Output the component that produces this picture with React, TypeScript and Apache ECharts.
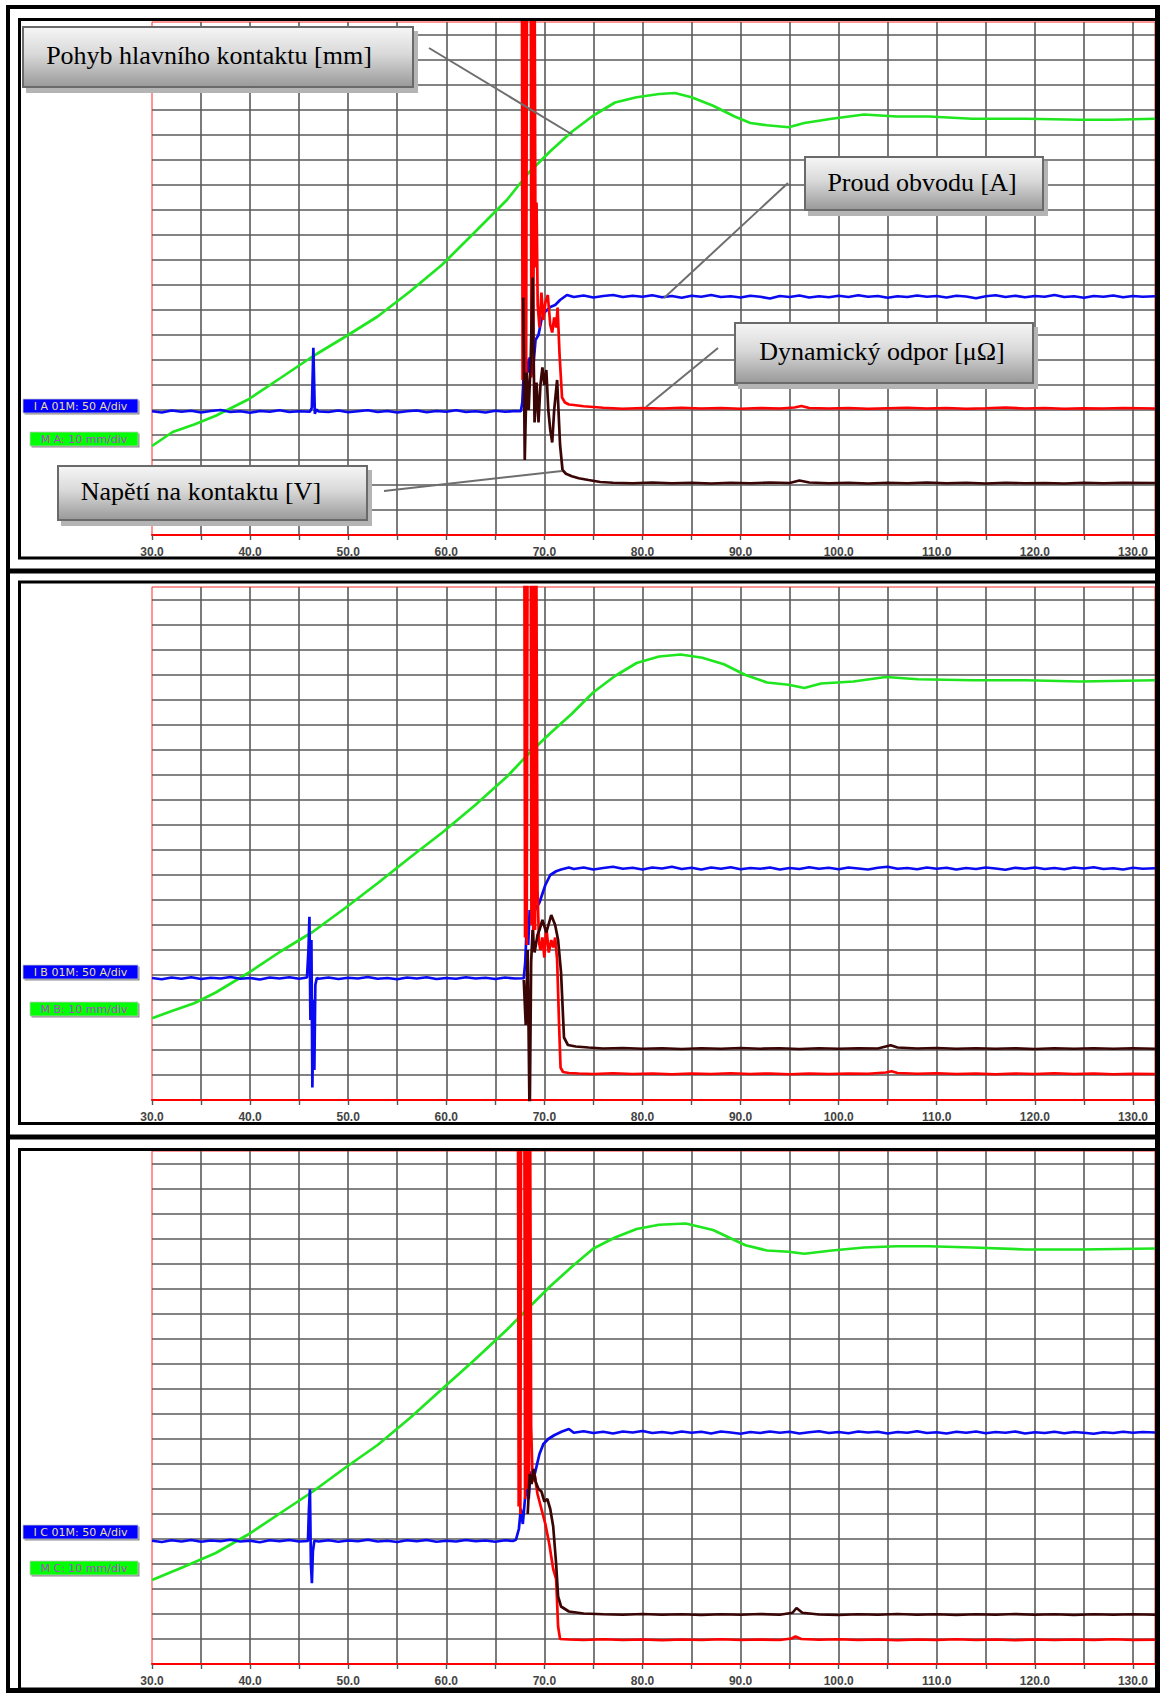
import React, { useEffect, useRef } from 'react';
import * as echarts from 'echarts';

// Time axis of the recorder, milliseconds
const X_MIN = 30;
const X_MAX = 132.25;
const X_TICK_LABELS = [30, 40, 50, 60, 70, 80, 90, 100, 110, 120, 130];
// Vertical scale in screen divisions (no numeric labels on the instrument)
const Y_MAX = 20.52;

// Channel tags shown at the left of each record
const TAGS_A = ['I A 01M: 50 A/div', 'M A: 10 mm/div'];
const TAGS_B = ['I B 01M: 50 A/div', 'M B: 10 mm/div'];
const TAGS_C = ['I C 01M: 50 A/div', 'M C: 10 mm/div'];

// Callout captions for the top record
const CALLOUTS = ['Pohyb hlavního kontaktu [mm]', 'Proud obvodu [A]', 'Dynamický odpor [μΩ]', 'Napětí na kontaktu [V]'];

// ---- Record A (phase A) : [ms, div] ----
const A_MOTION = [[30.0,3.56],[32.1,4.12],[34.3,4.42],[36.5,4.77],[39.8,5.42],[43.1,6.28],[46.4,7.15],[49.7,7.93],[53.0,8.74],[56.3,9.74],[59.6,10.82],[62.9,12.11],[66.2,13.41],[68.4,14.49],[70.6,15.35],[72.8,16.13],[75.0,16.78],[77.2,17.30],[79.4,17.51],[81.7,17.64],[83.3,17.68],[85.0,17.51],[87.2,17.17],[89.4,16.74],[91.0,16.48],[92.7,16.39],[94.9,16.31],[96.5,16.48],[99.3,16.65],[102.6,16.82],[105.9,16.74],[109.2,16.74],[113.6,16.65],[119.1,16.65],[124.6,16.61],[127.9,16.61],[132.25,16.65]];
const A_CURRENT = [[30,4.95],[31,4.9],[32,4.98],[33,4.93],[34,4.97],[35,4.9],[36,4.96],[37,5.0],[38,4.92],[39,4.95],[40,4.89],[41,4.96],[42,4.93],[43,4.99],[44,4.92],[45,4.95],[46.1,4.93],[46.3,5.1],[46.45,7.49],[46.6,4.85],[46.75,5.02],[47,4.94],[48,4.92],[49,4.98],[50,4.91],[51,4.95],[52,4.99],[53,4.92],[54,4.96],[55,4.9],[56,4.95],[57,4.98],[58,4.91],[59,4.96],[60,4.93],[61,4.99],[62,4.92],[63,4.95],[64,4.9],[65,4.97],[66,4.93],[67,4.96],[67.6,4.95],[67.75,5.3],[67.9,6.5],[68.1,7.1],[68.3,6.5],[68.5,7.1],[68.8,6.4],[69.1,7.8],[69.4,8.0],[69.7,8.6],[70.0,8.9],[70.6,9.12],[71.1,9.2],[71.6,9.4],[72.3,9.6],[73,9.52],[74,9.58],[75,9.5],[76,9.56],[77,9.6],[78,9.52],[79,9.57],[80,9.53],[81,9.59],[82,9.51],[83,9.56],[84,9.49],[85,9.57],[86,9.53],[87,9.6],[88,9.52],[89,9.55],[90,9.5],[91,9.57],[92,9.53],[93,9.46],[94,9.56],[95,9.52],[96,9.58],[97,9.5],[98,9.55],[99,9.51],[100,9.57],[101,9.52],[102,9.59],[103,9.53],[104,9.56],[105,9.49],[106,9.55],[107,9.52],[108,9.58],[109,9.53],[110,9.56],[111,9.5],[112,9.57],[113,9.54],[114,9.47],[115,9.55],[116,9.59],[117,9.52],[118,9.57],[119,9.51],[120,9.56],[121,9.53],[122,9.6],[123,9.52],[124,9.55],[125,9.49],[126,9.56],[127,9.53],[128,9.58],[129,9.51],[130,9.56],[131,9.53],[132.25,9.55]];
const A_RESISTANCE = [[67.7,25],[67.78,6.2],[67.86,25],[67.95,6.0],[68.04,25],[68.14,6.4],[68.24,25],[68.6,25],[68.68,6.3],[68.78,25],[68.88,7.5],[68.98,25],[69.1,10.7],[69.2,13.3],[69.32,9.2],[69.5,8.3],[69.7,9.7],[69.9,8.6],[70.1,9.3],[70.35,9.6],[70.6,8.4],[70.8,8.1],[71.0,8.7],[71.2,8.3],[71.35,9.1],[71.55,7.2],[71.8,5.5],[72.1,5.3],[72.5,5.22],[73,5.2],[74,5.15],[75,5.12],[76,5.09],[77,5.07],[78,5.05],[80,5.08],[82,5.06],[84,5.09],[86,5.06],[88,5.08],[90,5.05],[92,5.08],[94,5.06],[95.5,5.1],[96.2,5.16],[97,5.08],[99,5.06],[101,5.08],[103,5.05],[105,5.07],[107,5.09],[109,5.06],[111,5.08],[113,5.05],[115,5.07],[117,5.1],[119,5.06],[121,5.08],[123,5.05],[125,5.07],[127,5.06],[129,5.08],[132.25,5.06]];
const A_VOLTAGE = [[67.85,9.5],[68.0,3.0],[68.2,6.5],[68.4,5.0],[68.6,6.9],[68.8,10.3],[69.0,4.5],[69.2,6.1],[69.4,4.5],[69.6,6.0],[69.8,6.7],[70.0,6.0],[70.2,6.6],[70.4,5.0],[70.6,4.2],[70.8,3.7],[71.0,5.0],[71.3,6.2],[71.6,3.6],[71.85,2.6],[72.2,2.45],[72.8,2.35],[73.5,2.27],[74.5,2.2],[75.7,2.12],[77,2.09],[79,2.07],[81,2.1],[83,2.07],[85,2.09],[87,2.06],[89,2.09],[91,2.07],[93,2.1],[95,2.08],[96,2.18],[97,2.1],[99,2.07],[101,2.09],[103,2.06],[105,2.09],[107,2.07],[109,2.1],[111,2.07],[113,2.09],[115,2.06],[117,2.09],[119,2.07],[121,2.08],[123,2.06],[125,2.09],[127,2.07],[129,2.09],[132.25,2.08]];

// ---- Record B (phase B) ----
const B_MOTION = [[30.0,3.27],[32.1,3.57],[34.3,3.87],[36.5,4.30],[39.8,5.08],[43.1,5.94],[46.4,6.73],[49.7,7.68],[53.0,8.67],[56.3,9.70],[59.6,10.70],[62.9,11.78],[66.2,12.94],[68.4,13.85],[70.6,14.67],[72.8,15.45],[75.0,16.31],[77.2,16.96],[79.4,17.48],[81.7,17.74],[83.9,17.82],[86.1,17.69],[88.3,17.43],[90.5,17.00],[92.7,16.70],[94.9,16.61],[96.5,16.48],[98.2,16.66],[101.5,16.74],[104.8,16.92],[108.1,16.83],[113.6,16.79],[119.1,16.79],[124.6,16.74],[132.25,16.79]];
const B_CURRENT = [[30,4.88],[31,4.83],[32,4.9],[33,4.85],[34,4.91],[35,4.84],[36,4.89],[37,4.86],[38,4.92],[39,4.85],[40,4.88],[41,4.82],[42,4.9],[43,4.86],[44,4.91],[45,4.85],[45.8,4.9],[45.95,6.0],[46.05,7.33],[46.15,3.2],[46.25,6.4],[46.35,0.5],[46.45,4.0],[46.55,1.2],[46.65,4.6],[46.8,4.88],[47,4.85],[48,4.9],[49,4.84],[50,4.89],[51,4.86],[52,4.92],[53,4.85],[54,4.88],[55,4.83],[56,4.9],[57,4.86],[58,4.91],[59,4.84],[60,4.88],[61,4.85],[62,4.91],[63,4.86],[64,4.89],[65,4.84],[66,4.9],[67,4.86],[67.9,4.87],[68.05,5.5],[68.2,7.0],[68.35,6.2],[68.5,7.6],[68.7,7.2],[68.9,7.5],[69.2,7.7],[69.5,7.9],[70.1,8.6],[70.6,9.0],[71.2,9.15],[71.7,9.22],[72.5,9.3],[73,9.24],[74,9.3],[75,9.22],[76,9.28],[77,9.33],[78,9.25],[79,9.29],[80,9.22],[81,9.3],[82,9.26],[83,9.33],[84,9.24],[85,9.29],[86,9.22],[87,9.3],[88,9.25],[89,9.31],[90,9.23],[91,9.28],[92,9.25],[93,9.3],[94,9.22],[95,9.28],[96,9.24],[97,9.31],[98,9.25],[99,9.29],[100,9.23],[101,9.3],[102,9.26],[103,9.22],[104,9.29],[105,9.33],[106,9.25],[107,9.28],[108,9.23],[109,9.3],[110,9.25],[111,9.29],[112,9.22],[113,9.28],[114,9.24],[115,9.3],[116,9.26],[117,9.21],[118,9.29],[119,9.25],[120,9.3],[121,9.24],[122,9.28],[123,9.23],[124,9.3],[125,9.26],[126,9.31],[127,9.24],[128,9.27],[129,9.22],[130,9.29],[131,9.25],[132.25,9.27]];
const B_RESISTANCE = [[67.95,25],[68.03,6.5],[68.11,25],[68.2,6.2],[68.3,25],[68.6,25],[68.68,7.0],[68.77,25],[68.86,6.5],[68.95,25],[69.05,6.8],[69.15,25],[69.3,8.4],[69.45,6.3],[69.6,6.0],[69.8,6.5],[70.0,5.7],[70.2,6.9],[70.45,5.9],[70.7,6.4],[70.9,6.1],[71.1,6.5],[71.3,5.6],[71.5,3.0],[71.65,1.3],[71.9,1.12],[72.5,1.08],[73.5,1.06],[75,1.04],[77,1.07],[79,1.04],[81,1.06],[83,1.03],[85,1.06],[87,1.04],[89,1.07],[91,1.04],[93,1.06],[95,1.03],[97,1.06],[99,1.04],[101,1.06],[103,1.05],[104.8,1.1],[105.4,1.15],[106,1.08],[108,1.05],[110,1.07],[112,1.04],[114,1.06],[116,1.03],[118,1.06],[120,1.04],[122,1.07],[124,1.04],[126,1.06],[128,1.03],[130,1.05],[132.25,1.04]];
const B_VOLTAGE = [[67.9,4.8],[68.1,3.0],[68.3,6.0],[68.5,-1],[68.65,5.5],[68.8,6.8],[69.0,5.9],[69.3,6.6],[69.5,6.8],[69.8,7.2],[70.2,6.7],[70.7,7.4],[71.1,7.0],[71.4,6.4],[71.7,5.1],[72.0,2.5],[72.4,2.2],[73.2,2.14],[74.5,2.1],[76,2.06],[78,2.08],[80,2.05],[82,2.07],[84,2.04],[86,2.07],[88,2.05],[90,2.08],[92,2.05],[94,2.07],[96,2.04],[98,2.07],[100,2.05],[102,2.07],[104,2.06],[105.3,2.19],[106,2.1],[108,2.06],[110,2.08],[112,2.05],[114,2.07],[116,2.05],[118,2.07],[120,2.04],[122,2.07],[124,2.05],[126,2.07],[128,2.05],[130,2.07],[132.25,2.05]];

// ---- Record C (phase C) ----
const C_MOTION = [[30.0,3.36],[33.2,3.88],[36.5,4.44],[39.8,5.18],[43.1,6.04],[46.4,6.90],[49.7,7.85],[53.0,8.76],[56.3,9.84],[59.6,11.01],[62.9,12.17],[66.2,13.38],[68.4,14.25],[70.6,15.11],[72.8,15.89],[75.0,16.62],[77.2,17.06],[79.4,17.40],[81.7,17.57],[84.4,17.62],[87.2,17.36],[90.5,16.75],[92.7,16.54],[94.9,16.49],[96.5,16.41],[99.3,16.54],[102.6,16.66],[105.9,16.71],[109.2,16.71],[113.6,16.66],[119.1,16.58],[124.6,16.58],[132.25,16.62]];
const C_CURRENT = [[30,4.93],[31,4.88],[32,4.95],[33,4.9],[34,4.96],[35,4.89],[36,4.94],[37,4.91],[38,4.97],[39,4.9],[40,4.93],[41,4.87],[42,4.95],[43,4.91],[44,4.96],[45,4.9],[45.9,4.92],[46.0,6.2],[46.1,6.99],[46.2,4.0],[46.3,3.23],[46.4,4.5],[46.55,4.93],[47,4.9],[48,4.95],[49,4.89],[50,4.94],[51,4.91],[52,4.97],[53,4.9],[54,4.93],[55,4.88],[56,4.95],[57,4.91],[58,4.96],[59,4.89],[60,4.93],[61,4.9],[62,4.96],[63,4.91],[64,4.94],[65,4.89],[66,4.95],[66.8,4.92],[67.1,4.97],[67.4,5.4],[67.6,6.2],[67.8,5.6],[68.0,6.5],[68.2,7.2],[68.4,6.6],[68.6,7.7],[68.9,7.4],[69.2,7.9],[69.5,8.4],[69.9,8.8],[70.4,9.0],[71.0,9.15],[71.8,9.3],[72.5,9.4],[73,9.25],[74,9.31],[75,9.24],[76,9.29],[77,9.22],[78,9.3],[79,9.26],[80,9.32],[81,9.24],[82,9.28],[83,9.23],[84,9.3],[85,9.25],[86,9.29],[87,9.22],[88,9.3],[89,9.26],[90,9.21],[91,9.28],[92,9.24],[93,9.3],[94,9.25],[95,9.29],[96,9.22],[97,9.27],[98,9.31],[99,9.24],[100,9.28],[101,9.23],[102,9.3],[103,9.26],[104,9.29],[105,9.22],[106,9.28],[107,9.25],[108,9.31],[109,9.24],[110,9.27],[111,9.22],[112,9.29],[113,9.25],[114,9.3],[115,9.23],[116,9.28],[117,9.25],[118,9.3],[119,9.22],[120,9.27],[121,9.24],[122,9.29],[123,9.23],[124,9.28],[125,9.25],[126,9.21],[127,9.27],[128,9.24],[129,9.29],[130,9.25],[131,9.28],[132.25,9.26]];
const C_RESISTANCE = [[67.3,25],[67.38,6.3],[67.46,25],[67.55,6.0],[67.64,25],[67.95,25],[68.03,6.6],[68.12,25],[68.22,7.0],[68.32,25],[68.42,7.5],[68.52,25],[68.65,9.5],[68.8,7.3],[69.0,7.6],[69.3,6.8],[69.7,6.2],[70.1,5.6],[70.5,4.8],[70.9,3.8],[71.2,3.4],[71.4,1.5],[71.6,1.0],[72.5,0.98],[74,0.96],[76,0.99],[78,0.96],[80,0.98],[82,0.95],[84,0.98],[86,0.96],[88,0.99],[90,0.96],[92,0.98],[94,0.96],[95.2,1.02],[95.6,1.1],[96.2,1.0],[98,0.97],[100,0.99],[102,0.96],[104,0.98],[106,0.95],[108,0.98],[110,0.96],[112,0.99],[114,0.96],[116,0.98],[118,0.95],[120,0.98],[122,0.96],[124,0.98],[126,0.96],[128,0.99],[130,0.96],[132.25,0.97]];
const C_VOLTAGE = [[68.3,6.0],[68.5,7.6],[68.7,7.2],[68.9,7.8],[69.1,7.3],[69.4,7.0],[69.7,6.9],[70.0,6.5],[70.3,6.6],[70.6,6.2],[70.9,5.5],[71.2,4.0],[71.4,2.7],[71.7,2.3],[72.5,2.1],[74,2.02],[76,1.99],[78,1.97],[80,2.0],[82,1.97],[84,1.99],[86,1.96],[88,1.99],[90,1.97],[92,2.0],[94,1.97],[95.3,2.05],[95.7,2.24],[96.3,2.05],[98,1.98],[100,1.96],[102,1.99],[104,1.97],[106,2.0],[108,1.97],[110,1.99],[112,1.96],[114,1.99],[116,1.97],[118,2.0],[120,1.97],[122,1.99],[124,1.96],[126,1.99],[128,1.97],[130,1.99],[132.25,1.97]];

// Trace colours of the recorder
const COL_MOTION = '#1fe61f';
const COL_CURRENT = '#0a0af2';
const COL_RES = '#ff0000';
const COL_VOLT = '#3a0505';

// Panel geometry (px)
const PLOT_LEFT = 152;
const PLOT_RIGHT = 5;
const PLOT_H = 513;
const PANEL_TOPS = [22, 587, 1151];

const RECORDS = [
  { motion: A_MOTION, current: A_CURRENT, res: A_RESISTANCE, volt: A_VOLTAGE, tags: TAGS_A, tagY: [399, 432] },
  { motion: B_MOTION, current: B_CURRENT, res: B_RESISTANCE, volt: B_VOLTAGE, tags: TAGS_B, tagY: [965, 1002] },
  { motion: C_MOTION, current: C_CURRENT, res: C_RESISTANCE, volt: C_VOLTAGE, tags: TAGS_C, tagY: [1525, 1561] },
];

const GRID_COLOR = '#5a5a5a';

function calloutBox(x: number, y: number, w: number, h: number, text: string, cx: number) {
  return [
    { type: 'rect', z: 120, shape: { x: x + 3, y: y + 4, width: w + 2, height: h + 2 }, style: { fill: '#b4b4b4' } },
    {
      type: 'rect', z: 121, shape: { x, y, width: w, height: h },
      style: {
        fill: new echarts.graphic.LinearGradient(0, 0, 0, 1, [
          { offset: 0, color: '#f6f6f6' },
          { offset: 0.45, color: '#d9d9d9' },
          { offset: 1, color: '#999999' },
        ]),
        stroke: '#6a6a6a', lineWidth: 2,
      },
    },
    {
      type: 'text', z: 122, x: cx, y: y + h / 2 - 1.5,
      style: { text, fontSize: 26, fontFamily: 'Liberation Serif', fill: '#000', align: 'center', verticalAlign: 'middle' },
    },
  ];
}

function tagBox(x: number, y: number, w: number, h: number, text: string, fill: string, color: string) {
  return [
    { type: 'rect', z: 120, shape: { x: x + 1.5, y: y + 1.5, width: w, height: h }, style: { fill: '#8a8a8a' } },
    { type: 'rect', z: 121, shape: { x, y, width: w, height: h }, style: { fill, stroke: '#c8c8c8', lineWidth: 0.8 } },
    {
      type: 'text', z: 122, x: x + w / 2, y: y + h / 2 + 0.5,
      style: { text, fontSize: 11, fontFamily: 'DejaVu Sans', fill: color, align: 'center', verticalAlign: 'middle' },
    },
  ];
}

function line(x1: number, y1: number, x2: number, y2: number, w: number, color: string, z = 130) {
  return { type: 'line', z, shape: { x1, y1, x2, y2 }, style: { stroke: color, lineWidth: w } };
}

function buildOption() {
  const grids = PANEL_TOPS.map((top) => ({
    left: PLOT_LEFT, right: PLOT_RIGHT, top, height: PLOT_H,
    show: true, borderColor: '#ff2a2a', borderWidth: 1, backgroundColor: '#ffffff',
  }));

  const xAxes = PANEL_TOPS.map((_, i) => ({
    type: 'value', gridIndex: i, min: X_MIN, max: X_MAX, interval: 5,
    axisLine: { show: true, onZero: false, lineStyle: { color: '#ff0000', width: 2 } },
    axisTick: { show: true, length: 5, lineStyle: { color: '#555', width: 1.4 } },
    axisLabel: {
      color: '#444', fontSize: 12, fontWeight: 'bold', fontFamily: 'Liberation Sans', margin: 11,
      formatter: (v: number) => (X_TICK_LABELS.includes(v) ? v.toFixed(1) : ''),
    },
    splitLine: { show: true, showMinLine: false, showMaxLine: false, lineStyle: { color: GRID_COLOR, width: 1.6 } },
  }));

  const yAxes = PANEL_TOPS.map((_, i) => ({
    type: 'value', gridIndex: i, min: 0, max: Y_MAX, interval: 1,
    axisLine: { show: false }, axisTick: { show: false }, axisLabel: { show: false },
    splitLine: { show: true, showMinLine: false, showMaxLine: false, lineStyle: { color: GRID_COLOR, width: 1.6 } },
  }));

  const series: any[] = [];
  RECORDS.forEach((r, i) => {
    const mk = (data: number[][], color: string, z: number) => ({
      type: 'line', xAxisIndex: i, yAxisIndex: i, data, showSymbol: false, symbol: 'none',
      clip: true, silent: true, z,
      lineStyle: { color, width: 2.7, join: 'bevel' },
    });
    series.push(mk(r.motion, COL_MOTION, 3));
    series.push(mk(r.current, COL_CURRENT, 4));
    series.push(mk(r.res, COL_RES, 5));
    series.push(mk(r.volt, COL_VOLT, 6));
  });

  const g: any[] = [];
  // channel tags
  RECORDS.forEach((r) => {
    g.push(...tagBox(23, r.tagY[0], 115, 14, r.tags[0], '#0000ff', '#e6dfa0'));
    g.push(...tagBox(30, r.tagY[1], 108, 14, r.tags[1], '#00ff00', '#b044c8'));
  });

  // callouts of the top record
  g.push(line(429, 48, 573, 135, 2, '#6e6e6e'));
  g.push(line(788, 183, 664, 298, 2, '#6e6e6e'));
  g.push(line(718, 348, 646, 407, 2, '#6e6e6e'));
  g.push(line(384, 491, 562, 471, 2, '#6e6e6e'));
  g.push(...calloutBox(23, 27, 390, 60, CALLOUTS[0], 209));
  g.push(...calloutBox(805, 157, 238, 53, CALLOUTS[1], 922));
  g.push(...calloutBox(735, 323, 298, 60, CALLOUTS[2], 882));
  g.push(...calloutBox(58, 466, 309, 54, CALLOUTS[3], 201));

  // frames
  const K = '#000000';
  g.push(line(8, 5, 8, 1693, 4, K, 150));
  g.push(line(6, 7, 1160, 7, 4, K, 150));
  g.push(line(1157.5, 5, 1157.5, 1693, 5, K, 150));
  g.push(line(6, 571, 1160, 571, 5, K, 150));
  g.push(line(6, 1137, 1160, 1137, 5, K, 150));
  g.push(line(6, 1690.5, 1160, 1690.5, 5, K, 150));
  [[19.5, 558], [582, 1123.5], [1149.5, 1689]].forEach(([t, b]) => {
    g.push(line(19.5, t, 19.5, b, 3, K, 150));
    g.push(line(18, t, 1160, t, 3, K, 150));
    g.push(line(18, b, 1160, b, 3, K, 150));
  });

  return {
    animation: false,
    backgroundColor: '#ffffff',
    grid: grids,
    xAxis: xAxes,
    yAxis: yAxes,
    series,
    graphic: { elements: g },
  };
}

export default function App() {
  const ref = useRef<HTMLDivElement>(null);
  useEffect(() => {
    if (!ref.current) return;
    const chart = echarts.init(ref.current, null, { renderer: 'svg' });
    chart.setOption(buildOption() as any);
    return () => chart.dispose();
  }, []);
  return (
    <div
      ref={ref}
      style={{ position: 'absolute', left: 0, top: 0, width: 1160, height: 1693, background: '#ffffff' }}
    />
  );
}
